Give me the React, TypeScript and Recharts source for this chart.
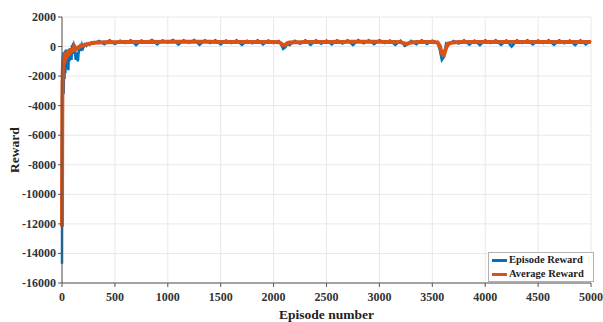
import { LineChart, Line, XAxis, YAxis, CartesianGrid } from 'recharts';

// episode numbers (denser at the start, where the curve climbs)
const episodes = [
  0, 1, 3, 5, 8, 10, 13, 16, 20, 24, 28, 32, 36, 40, 45, 50, 55, 60, 65, 70, 75, 80, 85, 90, 95,
  100, 105, 110, 115, 120, 125, 130, 140, 150, 160, 170, 180, 190, 200, 215, 230, 245, 260, 280, 300,
  350, 400, 450, 500, 550, 600, 650, 700, 750, 800, 850, 900, 950, 1000, 1050, 1100, 1150, 1200,
  1250, 1300, 1350, 1400, 1450, 1500, 1550, 1600, 1650, 1700, 1750, 1800, 1850, 1900, 1950, 2000,
  2050, 2070, 2090, 2110, 2130, 2150, 2200, 2250, 2300, 2350, 2400, 2450, 2500, 2550, 2600, 2650,
  2700, 2750, 2800, 2850, 2900, 2950, 3000, 3050, 3100, 3150, 3200, 3240, 3260, 3300, 3350, 3400,
  3450, 3500, 3550, 3570, 3590, 3610, 3630, 3650, 3700, 3750, 3800, 3850, 3900, 3950, 4000, 4050,
  4100, 4150, 4200, 4250, 4300, 4350, 4400, 4450, 4500, 4550, 4600, 4650, 4700, 4750, 4800, 4850,
  4900, 4950, 5000,
];

const episodeReward = [
  -14700, -9000, -3500, -1500, -600, -2600, -400, -3200, -800, -2200, -300, -1800, -200, -1500, -300,
  -1200, -200, -1600, -250, -1000, -100, -700, -200, -900, 100, -500, 250, -300, 150, -200, -600, -900,
  -400, -1000, -200, 0, -300, 100, -100, 150, 50, 200, 120, 280, 200,
  380, 150, 420, 180, 400, 230, 430, 100, 410, 250, 440, 150, 420, 260, 450, 130, 430, 250,
  440, 110, 420, 240, 430, 150, 410, 230, 420, 120, 400, 220, 430, 140, 410, 230,
  380, 150, -150, -50, 200, 100, 390, 180, 420, 120, 430, 190, 410, 140, 430, 210,
  420, 100, 440, 220, 420, 160, 430, 230, 410, 120, 400, 50, 120, 380, 150, 420,
  180, 400, 250, -200, -900, -700, 200, 100, 380, 200, 420, 130, 410, 100, 420, 240,
  430, 120, 410, 0, 420, 230, 430, 150, 410, 240, 420, 120, 430, 220, 410, 100,
  420, 140, 400,
];

const averageReward = [
  -12200, -8000, -3800, -2500, -1500, -1200, -900, -1300, -700, -1100, -500, -900, -400, -800, -350,
  -700, -300, -650, -250, -550, -200, -450, -150, -400, -100, -300, -80, -250, -50, -150, -120, -200,
  -150, -100, -30, 0, 20, 60, 80, 120, 150, 180, 200, 230, 250,
  270, 285, 300, 295, 305, 300, 310, 305, 315, 310, 320, 315, 320, 325, 330, 325, 330, 320,
  325, 320, 325, 320, 315, 310, 315, 310, 315, 305, 310, 305, 310, 305, 310, 300,
  290, 220, 80, 120, 230, 270, 290, 295, 300, 305, 310, 310, 315, 315, 320, 315,
  320, 320, 325, 320, 320, 325, 320, 315, 315, 310, 300, 200, 180, 280, 300, 305,
  300, 300, 280, 50, -450, -550, -100, 200, 280, 300, 305, 305, 310, 300, 305, 300,
  310, 305, 310, 300, 305, 310, 310, 305, 310, 305, 310, 300, 310, 305, 310, 300,
  305, 310, 305,
];

const xTicks = [0, 500, 1000, 1500, 2000, 2500, 3000, 3500, 4000, 4500, 5000];
const yTicks = [-16000, -14000, -12000, -10000, -8000, -6000, -4000, -2000, 0, 2000];

const series = [
  { key: 'reward', name: 'Episode Reward', color: '#0072BD', width: 2.5 },
  { key: 'average', name: 'Average Reward', color: '#D95319', width: 4 },
];

const data = episodes.map((ep, i) => ({
  episode: ep,
  reward: episodeReward[i],
  average: averageReward[i],
}));

const FONT = '"Liberation Serif", "Times New Roman", serif';
const tickText = { fontFamily: FONT, fontWeight: 700, fontSize: 12, fill: '#333' };

// custom ticks so the serif font sticks
const XTick = ({ x, y, payload }: any) => (
  <text x={x} y={y + 11} textAnchor="middle" style={tickText}>
    {payload.value}
  </text>
);

const YTick = ({ x, y, payload }: any) => (
  <text x={x} y={y + 4} textAnchor="end" style={tickText}>
    {payload.value}
  </text>
);

const App = () => {
  return (
    <div
      style={{
        position: 'absolute',
        left: 0,
        top: 0,
        width: 603,
        height: 322,
        background: '#fff',
        fontFamily: FONT,
        fontWeight: 'bold',
      }}
    >
      <LineChart width={603} height={322} data={data} margin={{ top: 17, right: 12, bottom: 0, left: 0 }}>
        <CartesianGrid stroke="#e8e8e8" />
        <XAxis
          dataKey="episode"
          type="number"
          domain={[0, 5000]}
          ticks={xTicks}
          height={39}
          tick={<XTick />}
          tickSize={4}
          tickMargin={3}
          stroke="#555"
          interval={0}
          label={{
            value: 'Episode number',
            position: 'insideBottom',
            offset: 3,
            style: { fontFamily: FONT, fontWeight: 'bold', fontSize: 13.5, fill: '#222' },
          }}
        />
        <YAxis
          type="number"
          domain={[-16000, 2000]}
          ticks={yTicks}
          width={62}
          tick={<YTick />}
          tickSize={4}
          tickMargin={2}
          stroke="#555"
          interval={0}
          label={{
            value: 'Reward',
            angle: -90,
            position: 'insideLeft',
            offset: 14,
            style: { fontFamily: FONT, fontWeight: 'bold', fontSize: 13.5, fill: '#222', textAnchor: 'middle' },
          }}
        />
        <XAxis xAxisId="top" orientation="top" dataKey="episode" type="number" domain={[0, 5000]} ticks={xTicks} tick={false} height={0} stroke="#aaa" tickSize={0} />
        <YAxis yAxisId="right" orientation="right" type="number" domain={[-16000, 2000]} ticks={yTicks} tick={false} width={0} stroke="#aaa" tickSize={0} />
        {series.map((s) => (
          <Line
            key={s.key}
            type="linear"
            dataKey={s.key}
            name={s.name}
            stroke={s.color}
            strokeWidth={s.width}
            dot={false}
            isAnimationActive={false}
          />
        ))}
      </LineChart>
      <div
        style={{
          position: 'absolute',
          left: 488,
          top: 252,
          width: 101,
          border: '1px solid #b0b0b0',
          background: '#fff',
          padding: '0 0 0 3px',
          fontFamily: FONT,
          fontWeight: 'bold',
          fontSize: 10.5,
          color: '#222',
          lineHeight: '14px',
        }}
      >
        {series.map((s) => (
          <div key={s.key} style={{ display: 'flex', alignItems: 'center', gap: 2 }}>
            <div style={{ width: 15, height: 3, background: s.color }} />
            <span>{s.name}</span>
          </div>
        ))}
      </div>
    </div>
  );
};

export default App;
